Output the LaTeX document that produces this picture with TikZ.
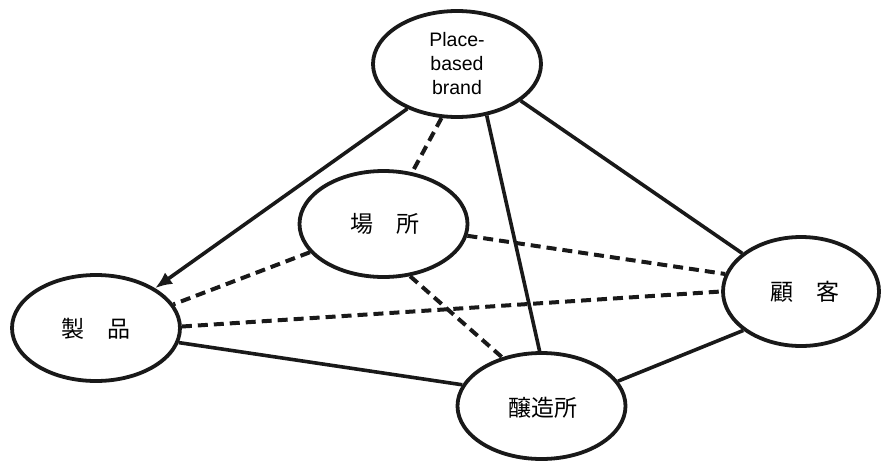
\documentclass[tikz,border=0pt]{standalone}
\usepackage{fontspec}
\setmainfont{Liberation Sans}
\newfontfamily\cjk{Noto Sans CJK JP}
\usetikzlibrary{arrows.meta,shapes.geometric}
\begin{document}
\begin{tikzpicture}[x=1pt,y=-1pt,
  ell/.style={draw=black!90, line width=3.8pt, ellipse, inner sep=0pt, minimum width=168pt, minimum height=106pt, fill=white},
  jp/.style={font=\cjk\fontsize{23}{26}\selectfont},
  solidln/.style={draw=black!90, line width=3.6pt},
  dashln/.style={draw=black!90, line width=4pt, dash pattern=on 10pt off 6pt},
  arr/.style={solidln, -{Latex[length=17pt,width=14pt]}}]
\useasboundingbox (0,0) rectangle (882,463);
\coordinate (PB) at (457,64);
\coordinate (BA) at (383.5,224);
\coordinate (SE) at (96,328);
\coordinate (KO) at (801,291.5);
\coordinate (JO) at (541.5,406);
\node[ell] (pbb) at (PB) {};
\node[ell] (basho) at (BA) {};
\node[ell] (seihin) at (SE) {};
\node[ell, minimum width=156pt, minimum height=109pt] (kokyaku) at (KO) {};
\node[ell] (jozo) at (JO) {};
\draw[arr] (pbb.222) -- (seihin.34);
\draw[dashln] (pbb.254) -- (basho.61);
\draw[solidln] (pbb.300) -- (jozo.92);
\draw[solidln] (pbb.330) -- (kokyaku.147);
\draw[dashln] (basho.352) -- (kokyaku.167);
\draw[dashln] (basho.201) -- (seihin.17);
\draw[dashln] (basho.297) -- (jozo.129);
\draw[dashln] (seihin.1) -- (kokyaku.180);
\draw[solidln] (seihin.350) -- (jozo.165);
\draw[solidln] (kokyaku.214) -- (jozo.18);
\node[align=center, font=\fontsize{19.5}{24}\selectfont] (pbbtext) at (457,64) {Place-\\based\\brand};
\node[jp] (bashotext) at (384.5,224) {場　所};
\node[jp] (seihintext) at (95.5,329) {製　品};
\node[jp] (kokyakutext) at (805,292) {顧　客};
\node[jp] (jozotext) at (542.5,408) {醸造所};
\end{tikzpicture}
\end{document}
